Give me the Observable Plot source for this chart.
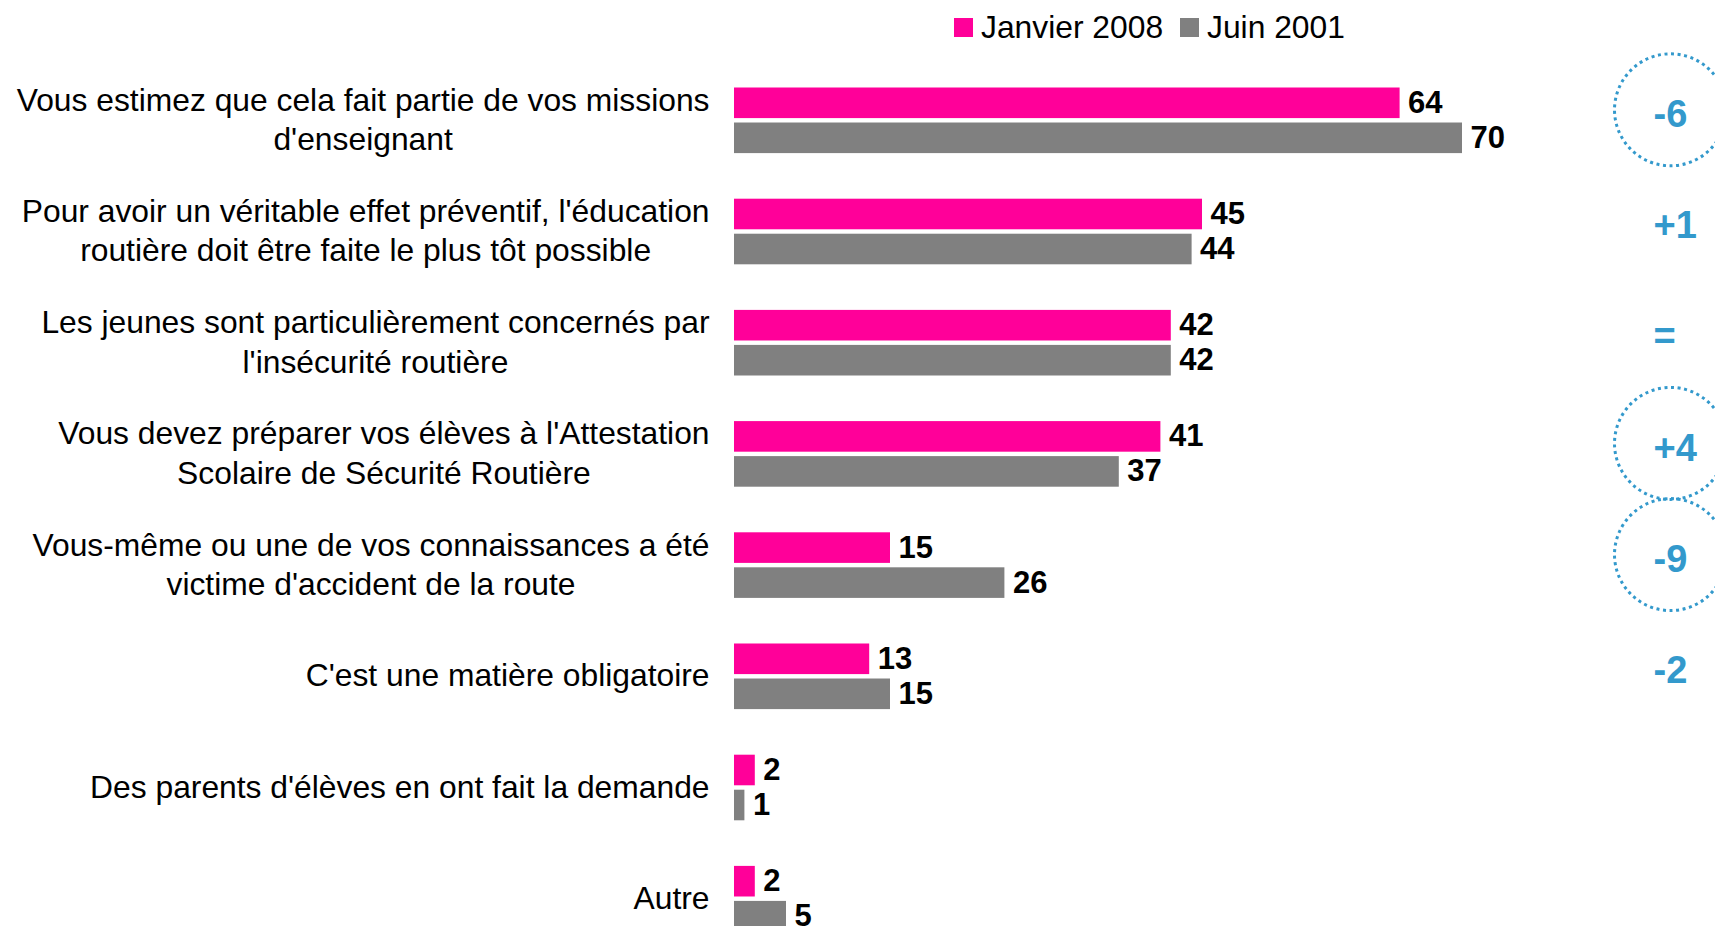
<!DOCTYPE html>
<html>
<head>
<meta charset="utf-8">
<script src="https://cdn.jsdelivr.net/npm/d3@7"></script>
<script src="https://cdn.jsdelivr.net/npm/@observablehq/plot@0.6"></script>
<style>
  html, body { margin: 0; padding: 0; background: #fff; width: 1715px; height: 926px; overflow: hidden; }
  body { font-family: "Liberation Sans", Arial, sans-serif; color: #000; }
  #legend { position: relative; height: 50px; }
  .item { position: absolute; top: 0; height: 54px; display: flex; align-items: center; font-size: 31.8px; }
  .sw { width: 19px; height: 19px; margin-right: 8px; }
</style>
</head>
<body>
<div id="legend"></div>
<div id="chart"></div>
<script>
const categories = [
  "Missions",
  "Préventif",
  "Jeunes",
  "ASSR",
  "Accident",
  "Obligatoire",
  "Parents",
  "Autre"
];
const labels = [
  "Vous estimez que cela fait partie de vos missions\nd'enseignant",
  "Pour avoir un véritable effet préventif, l'éducation\nroutière doit être faite le plus tôt possible",
  "Les jeunes sont particulièrement concernés par\nl'insécurité routière",
  "Vous devez préparer vos élèves à l'Attestation\nScolaire de Sécurité Routière",
  "Vous-même ou une de vos connaissances a été\nvictime d'accident de la route",
  "C'est une matière obligatoire",
  "Des parents d'élèves en ont fait la demande",
  "Autre"
];
const series = ["Janvier 2008", "Juin 2001"];
const seriesColors = ["#FF0099", "#808080"];
const janvier2008 = [64, 45, 42, 41, 15, 13, 2, 2];
const juin2001 = [70, 44, 42, 37, 26, 15, 1, 5];
const deltaCategories = ["Missions", "Préventif", "Jeunes", "ASSR", "Accident", "Obligatoire"];
const deltaLabels = ["-6", "+1", "=", "+4", "-9", "-2"];
const deltaCircled = [true, false, false, true, true, false];
const deltaColor = "#3399CC";

const labelFontSize = 31.8;
const fontFamily = "'Liberation Sans', Arial, sans-serif";

const data = categories.flatMap((c, i) => [
  {cat: c, series: series[0], value: janvier2008[i]},
  {cat: c, series: series[1], value: juin2001[i]}
]);
const catData = categories.map((c, i) => ({cat: c, label: labels[i]}));
const deltaData = deltaCategories.map((c, i) => ({cat: c, delta: deltaLabels[i], circled: deltaCircled[i]}));

// measure widest line of each label so that multi-line labels are centred as a block, right-aligned to the bars
const ctx = document.createElement("canvas").getContext("2d");
ctx.font = `${labelFontSize}px ${fontFamily}`;
const labelWidths = labels.map(l => Math.max(...l.split("\n").map(s => ctx.measureText(s).width)));

// legend
const legend = document.getElementById("legend");
const legendLeft = [954, 1180];
series.forEach((s, i) => {
  const it = document.createElement("div");
  it.className = "item";
  it.style.left = legendLeft[i] + "px";
  const sw = document.createElement("span");
  sw.className = "sw";
  sw.style.background = seriesColors[i];
  it.appendChild(sw);
  it.appendChild(document.createTextNode(s));
  legend.appendChild(it);
});

const labelGap = 25;

const chart = Plot.plot({
  width: 1715,
  height: 881.5,
  marginTop: 37.5,
  marginBottom: 0,
  marginLeft: 734,
  marginRight: 45,
  style: {fontFamily, background: "#fff", color: "#000", overflow: "visible"},
  x: {domain: [0, 90], axis: null},
  y: {domain: series, axis: null, paddingInner: 0.126, paddingOuter: 0, round: false},
  fy: {domain: categories, axis: null, paddingInner: 0.41, paddingOuter: 0, round: false},
  color: {domain: series, range: seriesColors},
  marks: [
    Plot.barX(data, {x: "value", y: "series", fy: "cat", fill: "series"}),
    Plot.text(data, {x: "value", y: "series", fy: "cat", text: d => String(d.value), textAnchor: "start", dx: 8, dy: -0.5, fontWeight: "bold", fontSize: 31, fill: "#000"}),
    ...catData.map((d, i) => Plot.text([d], {
      fy: "cat", text: "label", frameAnchor: "left", textAnchor: "middle",
      dx: -labelGap - labelWidths[i] / 2, dy: -3,
      fontSize: labelFontSize, lineHeight: 1.24, fill: "#000"
    })),
    Plot.dot(deltaData.filter(d => d.circled), {fy: "cat", frameAnchor: "right", r: 56, stroke: deltaColor, strokeWidth: 3, strokeDasharray: "3 3.6", fill: "none", dy: -11}),
    Plot.text(deltaData, {fy: "cat", text: "delta", frameAnchor: "right", dx: -17, dy: -6, textAnchor: "start", fontWeight: "bold", fontSize: 38, fill: deltaColor})
  ]
});
document.getElementById("chart").appendChild(chart);
</script>
</body>
</html>
